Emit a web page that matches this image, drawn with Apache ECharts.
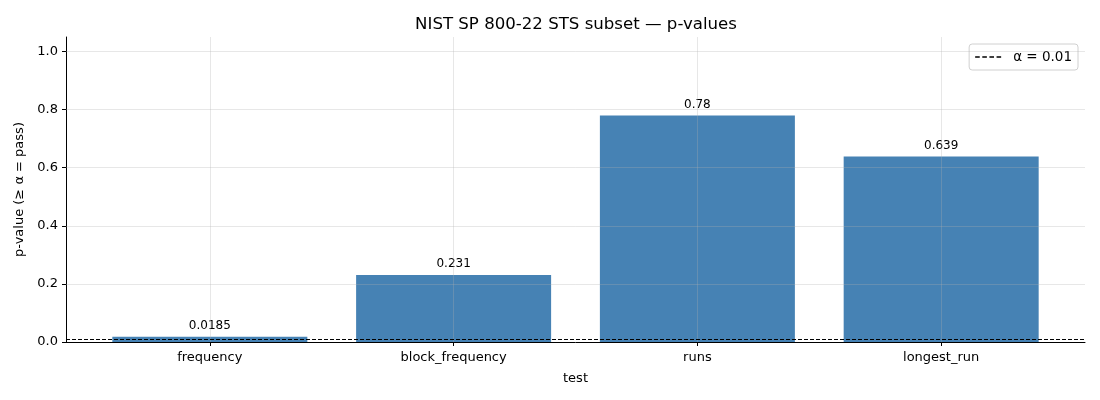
<!DOCTYPE html>
<html>
<head>
<meta charset="utf-8">
<script src="https://cdn.jsdelivr.net/npm/echarts@6/dist/echarts.min.js"></script>
<style>
  html, body { margin: 0; padding: 0; background: #fff; }
  #chart { width: 1100px; height: 400px; }
</style>
</head>
<body>
<div id="chart"></div>
<script>
// NIST STS subset p-values
var TESTS = ['frequency', 'block_frequency', 'runs', 'longest_run'];
var PVALUES = [0.0185, 0.231, 0.78, 0.639];
var PLABELS = ['0.0185', '0.231', '0.78', '0.639'];
var ALPHA = 0.01;
var Y_TICKS = [0, 0.2, 0.4, 0.6, 0.8, 1.0];

var FONT = 'DejaVu Sans';
var gridColor = 'rgba(176,176,176,0.3)';
var idx = TESTS.map(function (t, i) { return i; });
// dashed legend glyph
var DASH_ICON = 'path://M0,0h4.5v1.3h-4.5z M7,0h4.5v1.3h-4.5z M14,0h4.5v1.3h-4.5z M21,0h4.5v1.3h-4.5z';

var barData = PVALUES.map(function (v, i) {
    return { value: [i, v], label: { formatter: PLABELS[i] } };
});

// grid lines on top of the bars, like matplotlib
var gridLines = [];
idx.forEach(function (i) { gridLines.push({ xAxis: i }); });
Y_TICKS.forEach(function (v) { if (v > 0) gridLines.push({ yAxis: v }); });

var myChart = echarts.init(document.getElementById('chart'));
myChart.setOption({
    animation: false,
    textStyle: { fontFamily: FONT },
    title: {
        text: 'NIST SP 800-22 STS subset \u2014 p-values',
        left: 571, top: 11, textAlign: 'center',
        textStyle: { fontFamily: FONT, fontSize: 16.6, fontWeight: 'normal', color: '#000' }
    },
    legend: {
        right: 22, top: 44,
        orient: 'vertical',
        data: [{ name: '\u03b1 = 0.01', icon: DASH_ICON }],
        itemWidth: 26, itemHeight: 12, itemGap: 8,
        padding: [6, 6, 6, 6],
        borderColor: '#d0d0d0', borderWidth: 1, borderRadius: 3,
        backgroundColor: '#fff',
        textStyle: { fontFamily: FONT, fontSize: 13.5, color: '#000', padding: [0, 0, 0, 7] }
    },
    grid: { left: 66, right: 15, top: 37, bottom: 58 },
    xAxis: {
        type: 'value',
        min: -0.59, max: 3.59,
        name: 'test', nameLocation: 'middle', nameGap: 30,
        nameTextStyle: { fontFamily: FONT, fontSize: 13, color: '#000' },
        axisLine: { show: true, onZero: false, lineStyle: { color: '#000', width: 1 } },
        axisTick: { show: true, customValues: idx, length: 4, lineStyle: { color: '#000' } },
        axisLabel: {
            customValues: idx, color: '#000', fontSize: 13, fontFamily: FONT, margin: 9,
            formatter: function (v) { return TESTS[Math.round(v)]; }
        },
        splitLine: { show: false }
    },
    yAxis: {
        type: 'value',
        min: 0, max: 1.05,
        name: 'p-value (\u2265 \u03b1 = pass)', nameLocation: 'middle', nameGap: 38,
        nameTextStyle: { fontFamily: FONT, fontSize: 13, color: '#000' },
        axisLine: { show: true, onZero: false, lineStyle: { color: '#000', width: 1 } },
        axisTick: { show: true, customValues: Y_TICKS, length: 4, lineStyle: { color: '#000' } },
        axisLabel: {
            customValues: Y_TICKS, color: '#000', fontSize: 13, fontFamily: FONT, margin: 8,
            formatter: function (v) { return v.toFixed(1); }
        },
        splitLine: { show: false }
    },
    series: [
        {
            name: 'p-value',
            type: 'bar',
            data: barData,
            barWidth: 195,
            itemStyle: { color: '#4682b4' },
            label: {
                show: true, position: 'top', distance: 5,
                fontFamily: FONT, fontSize: 12, color: '#000'
            },
            z: 2
        },
        {
            name: 'grid',
            type: 'line',
            data: [],
            silent: true,
            z: 3,
            markLine: {
                silent: true, symbol: 'none', animation: false,
                label: { show: false },
                lineStyle: { color: gridColor, width: 1, type: 'solid' },
                data: gridLines
            }
        },
        {
            name: '\u03b1 = 0.01',
            type: 'line',
            data: [],
            symbol: 'none',
            itemStyle: { color: '#000' },
            lineStyle: { color: '#000', width: 1, type: [4, 2] },
            z: 4,
            markLine: {
                silent: true, symbol: 'none', animation: false,
                label: { show: false },
                lineStyle: { color: '#000', width: 1, type: [4, 2] },
                data: [{ yAxis: ALPHA }]
            }
        }
    ]
});
</script>
</body>
</html>
